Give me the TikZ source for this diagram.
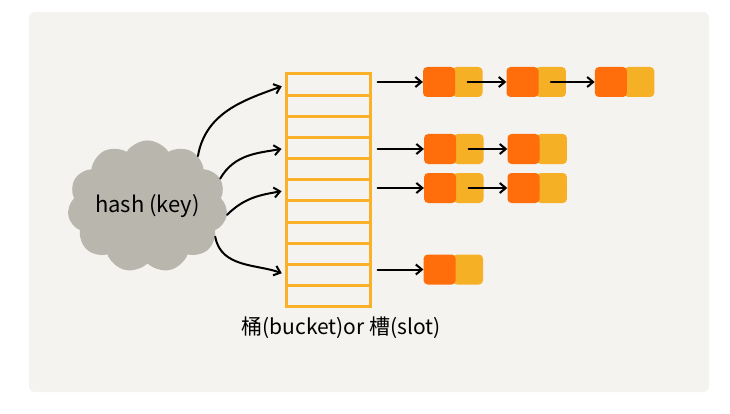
\documentclass[tikz,border=0pt]{standalone}
\usepackage{fontspec}
\newfontfamily\cjk{Noto Sans CJK SC}
\usetikzlibrary{positioning,arrows.meta,shapes.symbols}
\definecolor{hashpanel}{RGB}{244,243,239}
\definecolor{hashgray}{RGB}{185,182,174}
\definecolor{hashorange}{RGB}{255,110,10}
\definecolor{hashyellow}{RGB}{246,176,38}
\definecolor{hashbucket}{RGB}{250,176,40}
\tikzset{
  cloudstyle/.style={cloud, cloud puffs=11, cloud puff arc=115, aspect=1.3, fill=hashgray,
    minimum width=160pt, minimum height=124pt, inner sep=0pt, font=\cjk\fontsize{22}{26}\selectfont},
  slotstyle/.style={rectangle, draw=hashbucket, line width=3pt, minimum width=84pt,
    minimum height=21.15pt, inner sep=0pt, outer sep=0pt},
  databox/.style={rectangle, rounded corners=4pt, fill=hashorange, minimum width=32pt,
    minimum height=30pt, inner sep=0pt},
  nextbox/.style={rectangle, rounded corners=4pt, fill=hashyellow, minimum width=30pt,
    minimum height=30pt, inner sep=0pt},
  arrowstyle/.style={-{Straight Barb[length=6pt,width=10pt]}, line width=2pt, black, line cap=round}
}

\begin{document}
\begin{tikzpicture}[x=1pt,y=1pt]
  \fill[white] (0,0) rectangle (730,413);
  \fill[hashpanel, rounded corners=6pt] (29,21) rectangle (709,401);

  \node[cloudstyle] (hash) at (147.5,206.5) {hash (key)};

  % bucket array
  \foreach \i in {1,...,11}
    \node[slotstyle] (s\i) at (328.5,{339-21.15*(\i-0.5)}) {};
  \node[font=\cjk\fontsize{21}{25}\selectfont] (label) at (341,85) {桶(bucket)or 槽(slot)};

  % linked lists
  \node[nextbox] (a1n) at (467.5,331) {};
  \node[databox, left=-3pt of a1n] (a1) {};
  \node[nextbox, right=53pt of a1n] (b1n) {};
  \node[databox, left=-3pt of b1n] (b1) {};
  \node[nextbox, right=58pt of b1n] (c1n) {};
  \node[databox, left=-3pt of c1n] (c1) {};

  \node[nextbox] (a2n) at (468.5,264) {};
  \node[databox, left=-3pt of a2n] (a2) {};
  \node[nextbox, right=53pt of a2n] (b2n) {};
  \node[databox, left=-3pt of b2n] (b2) {};

  \node[nextbox] (a3n) at (468.5,225) {};
  \node[databox, left=-3pt of a3n] (a3) {};
  \node[nextbox, right=53pt of a3n] (b3n) {};
  \node[databox, left=-3pt of b3n] (b3) {};

  \node[nextbox] (a4n) at (468,143.5) {};
  \node[databox, left=-3pt of a4n] (a4) {};

  \draw[arrowstyle] (a1n.center) -- (b1.west);
  \draw[arrowstyle] (b1n.center) -- (c1.west);
  \draw[arrowstyle] (a2n.center) -- (b2.west);
  \draw[arrowstyle] (a3n.center) -- (b3.west);

  % bucket to list
  \draw[arrowstyle, shorten <=7pt] (s1.east |- a1.west) -- (a1.west);
  \draw[arrowstyle, shorten <=7pt] (s4.east |- a2.west) -- (a2.west);
  \draw[arrowstyle, shorten <=7pt] (s6.east |- a3.west) -- (a3.west);
  \draw[arrowstyle, shorten <=7pt] (s10.east |- a4.west) -- (a4.west);

  % hash to bucket
  \draw[arrowstyle, shorten >=5pt] (hash.45) to[out=80,in=200] (s1.west);
  \draw[arrowstyle, shorten >=5pt] (hash.21) to[out=60,in=190] (s4.west);
  \draw[arrowstyle, shorten >=5pt] (hash.-6) to[out=45,in=190] (s6.west);
  \draw[arrowstyle, shorten >=5pt] (hash.-24) to[out=-80,in=160] (s10.west);
\end{tikzpicture}
\end{document}
